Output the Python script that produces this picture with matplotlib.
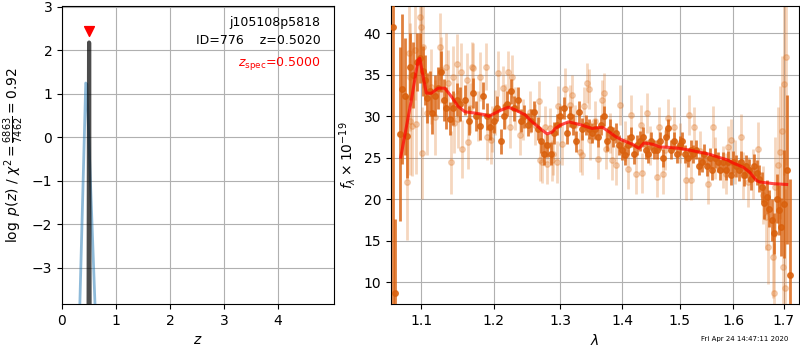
import matplotlib
matplotlib.use("Agg")
import matplotlib.pyplot as plt
from matplotlib.ticker import NullLocator, FixedLocator

# ---------------- left panel data: log p(z) ----------------
z_coarse = [0.30, 0.44, 0.46, 0.64]
logpz_coarse = [-5.26, 1.25, 1.22, -4.80]
z_fine = [0.490, 0.502, 0.514]
logpz_fine = [-6.0, 2.18, -6.0]
z_spec = 0.5000
z_best = 0.5020
chi2_num, chi2_den, chi2_red = 6863, 7462, 0.92
root_name = "j105108p5818"
obj_id = 776

# ---------------- right panel: binned (dark) spectrum ----------------
lam_dark = [1.063, 1.066, 1.072, 1.075, 1.079, 1.082, 1.086, 1.090, 1.094, 1.098,
            1.102, 1.105, 1.108, 1.112, 1.115, 1.119, 1.123, 1.126, 1.130, 1.134,
            1.139, 1.143, 1.148, 1.153, 1.160, 1.165, 1.170, 1.175, 1.180, 1.185,
            1.190, 1.195, 1.200, 1.205, 1.210, 1.215, 1.220, 1.225, 1.230, 1.235,
            1.240, 1.245, 1.250, 1.255, 1.260, 1.265, 1.270, 1.275, 1.280, 1.285,
            1.290, 1.295, 1.300, 1.305, 1.310, 1.315, 1.320, 1.325, 1.330, 1.335,
            1.340, 1.345, 1.350, 1.355, 1.360, 1.365, 1.370, 1.375, 1.380, 1.385,
            1.390, 1.395, 1.400, 1.405, 1.410, 1.415, 1.420, 1.425, 1.430, 1.435,
            1.440, 1.445, 1.450, 1.455, 1.460, 1.465, 1.470, 1.475, 1.480, 1.485,
            1.490, 1.495, 1.500, 1.505, 1.510, 1.515, 1.520, 1.525, 1.530, 1.535,
            1.540, 1.545, 1.550, 1.555, 1.560, 1.565, 1.570, 1.575, 1.580, 1.585,
            1.590, 1.595, 1.600, 1.605, 1.610, 1.615, 1.620, 1.625, 1.630, 1.635,
            1.640, 1.645, 1.650, 1.655, 1.660, 1.665, 1.670, 1.675, 1.680, 1.685,
            1.690, 1.695, 1.700, 1.707, 1.713]
flux_dark = [40.8, 8.7, 27.9, 33.3, 32.4, 27.6, 36.0, 35.0, 36.5, 37.0,
             35.5, 34.4, 32.2, 33.0, 30.4, 32.5, 33.4, 35.4, 32.0, 31.0,
             29.7, 31.0, 32.0, 31.5, 32.0, 29.5, 32.8, 30.0, 28.8, 32.5,
             30.0, 28.7, 29.5, 31.0, 27.0, 30.0, 31.5, 33.0, 31.0, 32.0,
             29.5, 30.0, 29.0, 29.5, 30.5, 28.5, 27.0, 25.5, 26.5, 25.5,
             28.0, 29.0, 30.0, 31.0, 28.0, 30.0, 29.0, 27.0, 30.5, 28.5,
             29.0, 28.5, 28.0, 28.5, 27.5, 29.0, 30.0, 27.0, 28.5, 27.5,
             28.0, 26.5, 26.0, 25.4, 26.5, 27.5, 25.5, 26.5, 27.0, 27.5,
             26.0, 25.5, 27.0, 26.0, 26.0, 27.0, 25.0, 27.5, 28.6, 26.0,
             27.0, 25.5, 26.5, 27.0, 25.5, 25.0, 26.0, 25.5, 26.0, 24.0,
             24.5, 25.5, 24.0, 25.0, 23.5, 25.0, 24.5, 23.5, 24.5, 23.5,
             24.5, 23.0, 24.5, 24.0, 23.5, 24.5, 23.0, 24.0, 23.5, 22.5,
             24.0, 23.2, 22.5, 21.5, 19.6, 20.3, 18.9, 17.5, 15.9, 20.1,
             18.7, 16.7, 19.5, 23.6, 10.9]
err_dark = [40.0, 9.0, 10.5, 9.0, 7.0, 5.0, 4.0, 4.0, 3.5, 3.0,
            3.0, 3.0, 3.0, 2.5, 2.5, 2.5, 2.5, 2.5, 2.5, 2.5,
            2.0, 2.0, 2.0, 2.0, 1.8, 1.8, 1.8, 1.8, 1.6, 1.6,
            1.6, 1.6, 1.5, 1.5, 1.5, 1.5, 1.5, 1.5, 1.5, 1.5,
            1.4, 1.4, 1.4, 1.4, 1.4, 1.4, 1.4, 1.4, 1.4, 1.4,
            1.3, 1.3, 1.3, 1.3, 1.3, 1.3, 1.3, 1.3, 1.3, 1.3,
            1.2, 1.2, 1.2, 1.2, 1.2, 1.2, 1.2, 1.2, 1.2, 1.2,
            1.2, 1.2, 1.2, 1.2, 1.2, 1.2, 1.2, 1.2, 1.2, 1.2,
            1.1, 1.1, 1.1, 1.1, 1.1, 1.1, 1.1, 1.1, 1.1, 1.1,
            1.1, 1.1, 1.1, 1.1, 1.1, 1.1, 1.1, 1.1, 1.1, 1.1,
            1.2, 1.2, 1.2, 1.2, 1.2, 1.2, 1.2, 1.2, 1.2, 1.2,
            1.3, 1.3, 1.3, 1.3, 1.3, 1.3, 1.4, 1.4, 1.4, 1.4,
            1.5, 1.5, 1.6, 1.8, 2.0, 2.0, 2.2, 2.5, 2.5, 3.0,
            3.0, 3.5, 6.5, 9.0, 11.5]

# ---------------- right panel: individual beam (light) spectrum ----------------
lam_light = [1.0821, 1.0839, 1.0852, 1.0856, 1.0882, 1.0921, 1.0938, 1.0987, 1.1000, 1.1017,
             1.1030, 1.1079, 1.1137, 1.1182, 1.1253, 1.1262, 1.1339, 1.1362, 1.1399, 1.1430,
             1.1444, 1.1478, 1.1499, 1.1540, 1.1550, 1.1620, 1.1638, 1.1666, 1.1689, 1.1712,
             1.1778, 1.1806, 1.1892, 1.1902, 1.1959, 1.1975, 1.2021, 1.2068, 1.2141, 1.2166,
             1.2214, 1.2239, 1.2273, 1.2312, 1.2386, 1.2436, 1.2536, 1.2611, 1.2667, 1.2686,
             1.2717, 1.2763, 1.2789, 1.2839, 1.2870, 1.2890, 1.2943, 1.2968, 1.3025, 1.3077,
             1.3155, 1.3182, 1.3230, 1.3314, 1.3341, 1.3368, 1.3421, 1.3458, 1.3474, 1.3552,
             1.3605, 1.3670, 1.3698, 1.3731, 1.3798, 1.3835, 1.3902, 1.3959, 1.4048, 1.4103,
             1.4144, 1.4229, 1.4315, 1.4342, 1.4429, 1.4475, 1.4603, 1.4632, 1.4697, 1.4738,
             1.4786, 1.4903, 1.5006, 1.5114, 1.5175, 1.5205, 1.5266, 1.5370, 1.5513, 1.5607,
             1.5650, 1.5795, 1.5858, 1.5896, 1.5959, 1.6029, 1.6151, 1.6184, 1.6284, 1.6381,
             1.6480, 1.6580, 1.6633, 1.6680, 1.6786, 1.6806, 1.6820, 1.6887, 1.6921, 1.6956,
             1.6988, 1.7009, 1.7023, 1.7038]
flux_light = [22.1, 37.6, 29.4, 34.8, 28.8, 38.0, 29.1, 42.0, 40.8, 25.6,
              38.4, 30.4, 33.6, 29.9, 38.4, 35.6, 36.0, 34.0, 24.5, 34.7,
              29.2, 36.3, 29.7, 35.4, 26.1, 34.4, 26.9, 31.0, 36.0, 35.8,
              30.0, 34.8, 36.0, 27.5, 27.1, 28.5, 30.5, 35.2, 33.4, 31.2,
              35.3, 28.75, 34.8, 31.0, 27.8, 29.6, 30.5, 29.0, 31.8, 24.7,
              24.5, 28.75, 24.3, 28.55, 24.7, 25.5, 24.5, 31.2, 26.7, 33.3,
              31.4, 32.6, 29.0, 25.7, 25.3, 31.2, 34.0, 33.3, 27.1, 29.5,
              24.9, 32.0, 32.8, 26.1, 28.0, 24.7, 24.1, 31.4, 27.0, 23.7,
              30.2, 23.1, 28.95, 23.2, 30.4, 26.5, 22.7, 28.75, 23.1, 26.0,
              29.75, 28.75, 26.8, 22.3, 30.2, 22.3, 28.75, 25.8, 21.9, 28.75,
              25.0, 23.9, 23.1, 26.3, 27.1, 24.5, 27.5, 22.9, 22.1, 23.1,
              26.1, 20.5, 17.9, 14.3, 13.1, 8.7, 21.5, 24.1, 25.7, 28.3,
              11.8, 33.9, 9.3, 37.1]
err_light = [7.0, 6.5, 6.5, 6.5, 6.0, 6.0, 6.0, 5.5, 5.5, 5.5,
             5.0, 5.0, 4.5, 4.5, 4.0, 4.0, 4.0, 4.0, 3.8, 3.8,
             3.6, 3.6, 3.5, 3.5, 3.5, 3.2, 3.2, 3.0, 3.0, 3.0,
             3.0, 3.0, 2.8, 2.8, 2.8, 2.8, 2.7, 2.7, 2.7, 2.7,
             2.6, 2.6, 2.6, 2.6, 2.5, 2.5, 2.5, 2.5, 2.5, 2.5,
             2.5, 2.5, 2.5, 2.5, 2.5, 2.5, 2.5, 2.5, 2.5, 2.5,
             2.4, 2.4, 2.4, 2.4, 2.4, 2.4, 2.4, 2.4, 2.4, 2.4,
             2.4, 2.4, 2.4, 2.4, 2.4, 2.4, 2.4, 2.4, 2.4, 2.4,
             2.4, 2.4, 2.4, 2.4, 2.4, 2.4, 2.4, 2.4, 2.4, 2.4,
             2.4, 2.4, 2.4, 2.4, 2.4, 2.4, 2.4, 2.4, 2.5, 2.5,
             2.5, 2.5, 2.5, 2.6, 2.6, 2.6, 2.8, 2.8, 3.0, 3.0,
             3.2, 3.5, 4.0, 4.5, 5.0, 6.0, 6.0, 7.0, 8.0, 9.0,
             10.0, 11.0, 12.0, 13.0]

# ---------------- right panel: model ----------------
lam_model = [1.0735, 1.0873, 1.0960, 1.0983, 1.1026, 1.1070, 1.1137, 1.1227, 1.1317, 1.1407,
             1.1499, 1.1596, 1.1736, 1.1877, 1.1925, 1.2021, 1.2118, 1.2214, 1.2312, 1.2461,
             1.2566, 1.2718, 1.2795, 1.2872, 1.2922, 1.2999, 1.3131, 1.3236, 1.3342, 1.3503,
             1.3671, 1.3781, 1.3893, 1.4003, 1.4172, 1.4286, 1.4372, 1.4516, 1.4663, 1.4757,
             1.4994, 1.5175, 1.5358, 1.5543, 1.5731, 1.5889, 1.5990, 1.6183, 1.6313, 1.6443,
             1.6510, 1.6781, 1.7056]
flux_model = [25.1, 32.0, 36.8, 37.0, 34.8, 32.8, 32.8, 33.4, 33.4, 32.4,
              31.2, 30.55, 30.4, 30.2, 30.0, 30.4, 30.8, 31.1, 30.8, 30.2,
              29.35, 28.35, 27.9, 28.1, 28.55, 28.95, 29.35, 29.15, 28.95, 28.55,
              28.7, 28.15, 27.55, 27.15, 26.65, 26.15, 26.8, 26.65, 26.3, 26.3,
              26.15, 25.95, 25.7, 25.45, 25.05, 24.75, 24.4, 23.9, 23.3, 22.3,
              22.1, 21.9, 21.8]

xticks_right = [1.1, 1.2, 1.3, 1.4, 1.5, 1.6, 1.7]
yticks_right = [10, 15, 20, 25, 30, 35, 40]
xticks_left = [0, 1, 2, 3, 4]
yticks_left = [-3, -2, -1, 0, 1, 2, 3]
timestamp = "Fri Apr 24 14:47:11 2020"

# ---------------- figure ----------------
fig = plt.figure(figsize=(8, 3.5), dpi=100)
ax1 = fig.add_axes([62/800, 46/350, 272/800, 298/350])
ax2 = fig.add_axes([391/800, 46/350, 408/800, 298/350])

# left panel
ax1.plot(z_coarse, logpz_coarse, color='#1f77b4', alpha=0.5, lw=2, zorder=3)
ax1.plot(z_fine, logpz_fine, color='k', alpha=0.7, lw=3, zorder=4)
ax1.scatter([z_spec], [2.45], marker='v', color='red', s=50, zorder=5)
ax1.set_xlim(0, 5.04)
ax1.set_ylim(-3.83, 3.02)
ax1.set_xticks(xticks_left)
ax1.set_yticks(yticks_left)
ax1.grid(True, color='#b0b0b0', lw=0.8)
ax1.set_axisbelow(True)
ax1.set_xlabel(r'$z$')
ax1.set_ylabel(r'$\log\ p(z)$ / $\chi^2=\frac{%d}{%d}=%.2f$' % (chi2_num, chi2_den, chi2_red))
ax1.text(0.95, 0.965, root_name, transform=ax1.transAxes, ha='right', va='top', fontsize=9)
ax1.text(0.95, 0.905, 'ID=%d    z=%.4f' % (obj_id, z_best), transform=ax1.transAxes,
         ha='right', va='top', fontsize=9)
ax1.text(0.95, 0.835, r'$z_\mathrm{spec}$=%.4f' % z_spec, transform=ax1.transAxes,
         ha='right', va='top', fontsize=9, color='red')

# right panel
ax2.set_xscale('log')
ax2.errorbar(lam_light, flux_light, yerr=err_light, fmt='o', color='#e07a2c', alpha=0.3,
             markersize=4, elinewidth=2, capsize=0, zorder=2)
ax2.errorbar(lam_dark, flux_dark, yerr=err_dark, fmt='o', color='#d9600c', alpha=0.8,
             markersize=4, elinewidth=2, capsize=0, zorder=3)
ax2.plot(lam_model, flux_model, color='red', alpha=0.7, lw=2.2, zorder=4)
ax2.set_xlim(1.061, 1.731)
ax2.set_ylim(7.4, 43.3)
ax2.xaxis.set_major_locator(FixedLocator(xticks_right))
ax2.xaxis.set_minor_locator(NullLocator())
ax2.set_xticklabels([f'{t:.1f}' for t in xticks_right])
ax2.set_yticks(yticks_right)
ax2.grid(True, color='#b0b0b0', lw=0.8)
ax2.set_axisbelow(True)
ax2.set_xlabel(r'$\lambda$')
ax2.set_ylabel(r'$f_\lambda\times10^{-19}$')

fig.text(788/800, 11/350, timestamp, ha='right', va='center', fontsize=5)

fig.savefig('out.png', dpi=100)
